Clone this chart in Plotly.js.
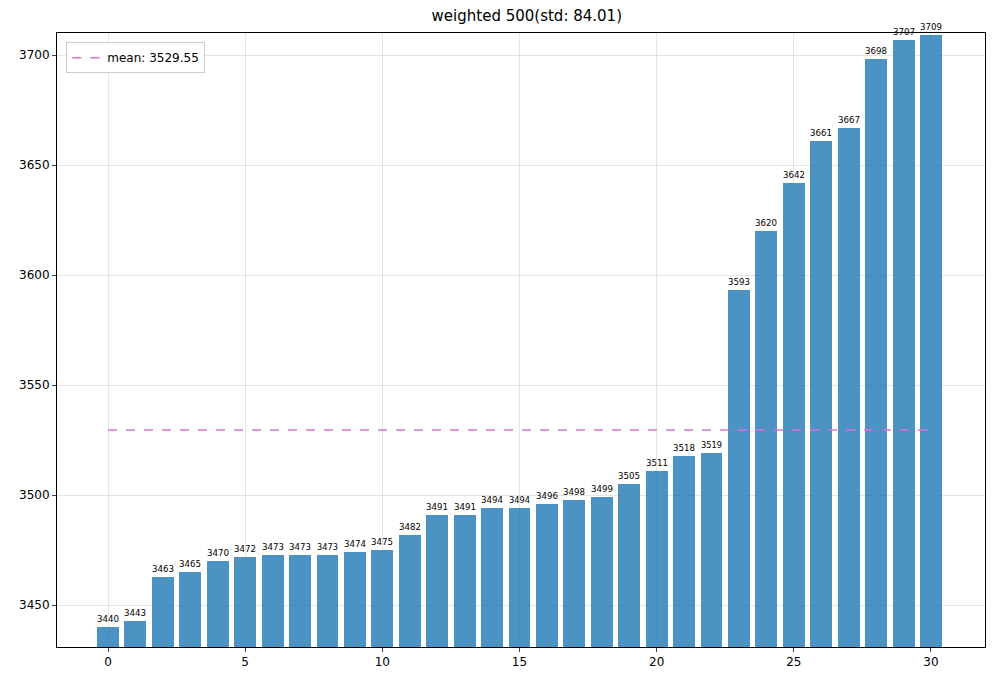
<!DOCTYPE html>
<html><head><script src="https://cdn.plot.ly/plotly-3.0.0.min.js"></script>
<style>body{margin:0}</style></head><body><div id="c" style="width:994px;height:682px"></div>
<script>
const values=[3440,3443,3463,3465,3470,3472,3473,3473,3473,3474,3475,3482,3491,3491,3494,3494,3496,3498,3499,3505,3511,3518,3519,3593,3620,3642,3661,3667,3698,3707,3709];
const idx=values.map((v,i)=>i);
const meanVal=3529.55;
const titleText="weighted 500(std: 84.01)";
const meanLabel="mean: 3529.55";
const traces=[
{type:'bar',x:idx,y:values,width:0.8,marker:{color:'rgba(31,119,180,0.8)'},text:values.map(String),textposition:'outside',cliponaxis:false,textfont:{size:13,color:'black'},showlegend:false,hoverinfo:'skip'},
{type:'scatter',mode:'lines',x:[0,idx.length-1],y:[meanVal,meanVal],line:{color:'orchid',dash:'dash',width:1.5},name:meanLabel}
];
const layout={width:994,height:682,margin:{l:57,r:9,t:33,b:35},
title:{text:titleText,font:{size:15,color:'black',family:'DejaVu Sans'},x:0.53,y:0.985,yanchor:'top'},
font:{family:'DejaVu Sans',size:12,color:'black'},
plot_bgcolor:'white',paper_bgcolor:'white',
xaxis:{range:[-1.86,31.97],tickvals:[0,5,10,15,20,25,30],showgrid:true,gridcolor:'rgba(0,0,0,0.1)',zeroline:false,showline:true,mirror:true,linecolor:'black',ticks:'outside',ticklen:4},
yaxis:{range:[3431,3710],tickvals:[3450,3500,3550,3600,3650,3700],showgrid:true,gridcolor:'rgba(0,0,0,0.1)',zeroline:false,showline:true,mirror:true,linecolor:'black',ticks:'outside',ticklen:4},
legend:{x:0.01,y:0.985,xanchor:'left',yanchor:'top',bordercolor:'#ccc',borderwidth:1,bgcolor:'white',font:{size:12}},
bargap:0};
Plotly.newPlot('c',traces,layout,{displayModeBar:false});
</script></body></html>
